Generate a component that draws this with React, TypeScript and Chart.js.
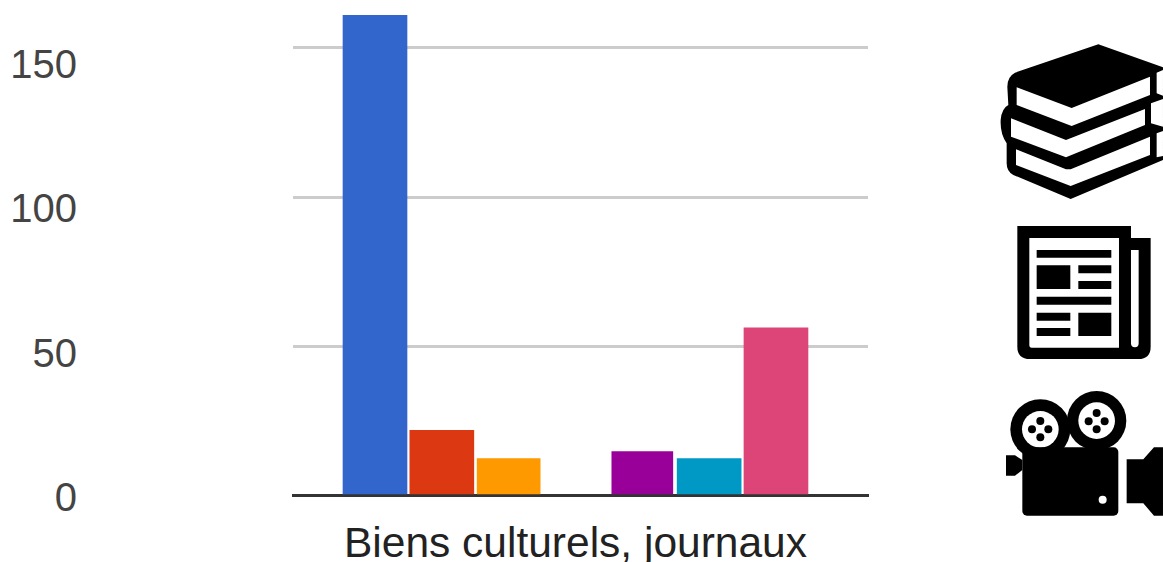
import React, { useEffect, useRef } from "react";
import { Chart, registerables } from "chart.js";

Chart.register(...registerables);

const categoryLabel = "Biens culturels, journaux";
const slots = [0, 1, 2, 4, 5, 6];
const values = [161, 21.8, 12.4, 14.7, 12.4, 56.2];
const colors = ["#3366cc", "#dc3912", "#ff9900", "#990099", "#0099c6", "#dd4477"];
const barWidths = [64, 64, 63, 61, 64, 64];
const yTicks = [0, 50, 100, 150];

export default function App() {
  const ref = useRef<HTMLCanvasElement>(null);
  useEffect(() => {
    document.body.style.margin = "0";
    const canvas = ref.current!;
    canvas.getContext("2d", { alpha: false });
    const whiteBg = {
      id: "whiteBg",
      beforeDraw(c: any) {
        c.ctx.save();
        c.ctx.fillStyle = "#fff";
        c.ctx.fillRect(0, 0, c.width, c.height);
        c.ctx.restore();
      },
    };
    const chart = new Chart(canvas, {
      type: "bar",
      plugins: [whiteBg],
      data: {
        datasets: slots.map((s, i) => ({
          data: [{ x: s, y: values[i] }],
          backgroundColor: colors[i],
          barThickness: barWidths[i],
          grouped: false,
        })),
      },
      options: {
        animation: false,
        responsive: false,
        devicePixelRatio: 1,
        layout: { padding: { top: 15, left: 0, right: 295, bottom: 0 } },
        plugins: { legend: { display: false }, tooltip: { enabled: false } },
        scales: {
          x: {
            type: "linear",
            offset: false,
            min: -1.227,
            max: 7.377,
            afterBuildTicks: (s: any) => {
              s.ticks = [{ value: 3 }];
            },
            afterFit: (s: any) => {
              s.height = 66.5;
              s.paddingLeft = 0;
              s.paddingRight = 0;
            },
            grid: { display: false, drawTicks: false, offset: false },
            border: { display: true, color: "#333333", width: 3 },
            ticks: {
              callback: () => categoryLabel,
              color: "#222222",
              font: { family: "Liberation Sans", size: 42.5 },
              padding: 24,
              maxRotation: 0,
              autoSkip: false,
            },
          },
          y: {
            position: "left",
            min: 0,
            max: 161,
            afterBuildTicks: (s: any) => {
              s.ticks = yTicks.map((value) => ({ value }));
            },
            afterFit: (s: any) => {
              s.width = 0;
              s.paddingTop = 0;
              s.paddingBottom = 0;
            },
            border: { display: false },
            grid: {
              lineWidth: 3,
              drawTicks: false,
              color: (c: any) => (c.tick && c.tick.value === 0 ? "rgba(0,0,0,0)" : "#cccccc"),
            },
            ticks: { display: false },
          },
          yLabels: {
            position: "left",
            min: 1.4,
            max: 168.2,
            afterBuildTicks: (s: any) => {
              s.ticks = yTicks.map((value) => ({ value }));
            },
            afterFit: (s: any) => {
              s.width = 293;
              s.paddingTop = 0;
              s.paddingBottom = 0;
            },
            border: { display: false },
            grid: { display: false, drawTicks: false },
            ticks: {
              color: "#444444",
              font: { family: "Liberation Sans", size: 40 },
              padding: 216,
            },
          },
        },
      },
    } as any);
    return () => chart.destroy();
  }, []);

  return (
    <div style={{ position: "relative", width: 1163, height: 562, overflow: "hidden" }}>
      <canvas ref={ref} width={1163} height={562} style={{ position: "absolute", left: 0, top: 0 }} />
      <svg
        width={1163}
        height={562}
        viewBox="0 0 1163 562"
        style={{ position: "absolute", left: 0, top: 0 }}
      >
        <g transform="translate(980,30) scale(0.3333)">
          <path
            d="M355,43 L549,112 L549,390 L272,507 L100,435 Q80,425 80,400 L80,340 Q60,310 62,270 Q65,235 85,225 L82,170 Q82,140 105,128 Z"
            fill="#000"
          />
          <path
            d="M110,172 L275,234 L510,140 L510,195 L275,288 L110,225 Z M93,265 L258,330 L495,237 L495,285 L258,382 L93,320 Z M108,358 L258,418 L272,418 L510,320 L510,375 L272,468 L108,405 Z M530,128 L549,120 L549,197 L530,190 Z M530,310 L549,303 L549,378 L530,382 Z M513,220 L549,207 L549,290 L513,280 Z"
            fill="#fff"
          />
        </g>
        <g transform="translate(980,210) scale(0.3333)">
          <path d="M112,48 H453 V84 H512 V410 Q512,447 475,447 H150 Q112,447 112,410 Z" fill="#000" />
          <path
            d="M148,84 H417 V413 H155 Q148,413 148,405 Z M453,120 H476 V400 Q476,412 465,412 Q453,412 453,400 Z"
            fill="#fff"
          />
          <path
            d="M170,120 h224 v23 h-224 Z M170,166 h101 v71 h-101 Z M295,166 h99 v24 h-99 Z M295,213 h99 v24 h-99 Z M170,260 h224 v24 h-224 Z M170,308 h101 v24 h-101 Z M170,354 h101 v24 h-101 Z M295,308 h99 v70 h-99 Z"
            fill="#000"
          />
        </g>
        <g transform="translate(980,380) scale(0.3333)">
          <circle cx={181} cy={148} r={90} fill="#000" />
          <circle cx={350} cy={122} r={89} fill="#000" />
          <circle cx={181} cy={148} r={55} fill="#fff" />
          <circle cx={350} cy={122} r={55} fill="#fff" />
          {[[181, 123], [156, 148], [205, 148], [181, 172], [350, 99], [326, 124], [374, 124], [350, 148]].map(
            ([cx, cy], i) => (
              <circle key={i} cx={cx} cy={cy} r={12} fill="#000" />
            )
          )}
          <rect x={127} y={202} width={288} height={205} rx={14} fill="#000" />
          <path d="M78,226 H105 L127,240 V270 L105,287 H78 Z" fill="#000" />
          <path d="M440,238 H490 L522,202 H549 V407 H522 L490,370 H440 Z" fill="#000" />
          <circle cx={368} cy={359} r={12} fill="#fff" />
        </g>
      </svg>
    </div>
  );
}
